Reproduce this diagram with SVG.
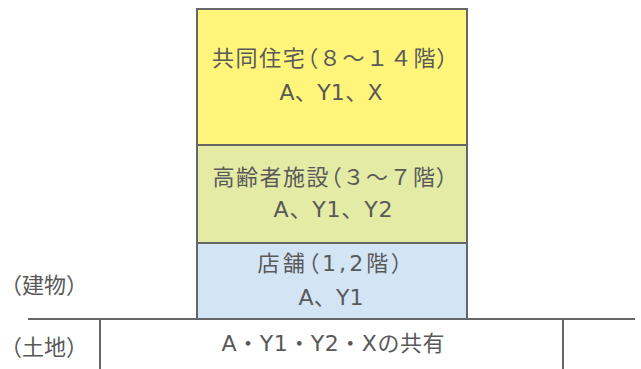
<svg xmlns="http://www.w3.org/2000/svg" width="641" height="369" viewBox="0 0 641 369">
<style>
.box{stroke:#666;stroke-width:2}
.ln{stroke:#666;stroke-width:2;fill:none}
text{font-family:"DejaVu Sans","Noto Sans CJK JP",sans-serif;font-size:22px;fill:#595959;text-anchor:middle}
.lbl{text-anchor:start}
.p{font-feature-settings:"palt" 1}
</style>
<rect width="641" height="369" fill="#fff"/>
<g id="floor-residential">
<rect class="box" x="197" y="9" width="270" height="136" fill="#FFF57A"/>
<text x="330" y="66" textLength="236" lengthAdjust="spacing">共同住宅<tspan class="p">（</tspan>８～１４階<tspan class="p">）</tspan></text>
<text x="331" y="100" textLength="103" lengthAdjust="spacing">A、Y1、X</text>
</g>
<g id="floor-elderly">
<rect class="box" x="197" y="145" width="270" height="98" fill="#E3EBA5"/>
<text x="330" y="185" textLength="235" lengthAdjust="spacing">高齢者施設<tspan class="p">（</tspan>３～７階<tspan class="p">）</tspan></text>
<text x="333" y="217" textLength="119" lengthAdjust="spacing">A、Y1、Y2</text>
</g>
<g id="floor-shop">
<rect class="box" x="197" y="243" width="270" height="76" fill="#D3E5F5"/>
<text x="330" y="271" textLength="145" lengthAdjust="spacing">店舗<tspan class="p">（</tspan>1,2階<tspan class="p">）</tspan></text>
<text x="331" y="305" textLength="65" lengthAdjust="spacing">A、Y1</text>
</g>
<g id="land">
<text x="333" y="351" textLength="223" lengthAdjust="spacing">A・Y1・Y2・Xの共有</text>
</g>
<g id="connectors">
<line class="ln" x1="28" y1="319" x2="635" y2="319"/>
<line class="ln" x1="100" y1="319" x2="100" y2="369"/>
<line class="ln" x1="563" y1="319" x2="563" y2="369"/>
</g>
<g id="labels">
<text class="lbl" x="0 22 44 66" y="293">（建物）</text>
<text class="lbl" x="0 22 44 66" y="355">（土地）</text>
</g>
</svg>
